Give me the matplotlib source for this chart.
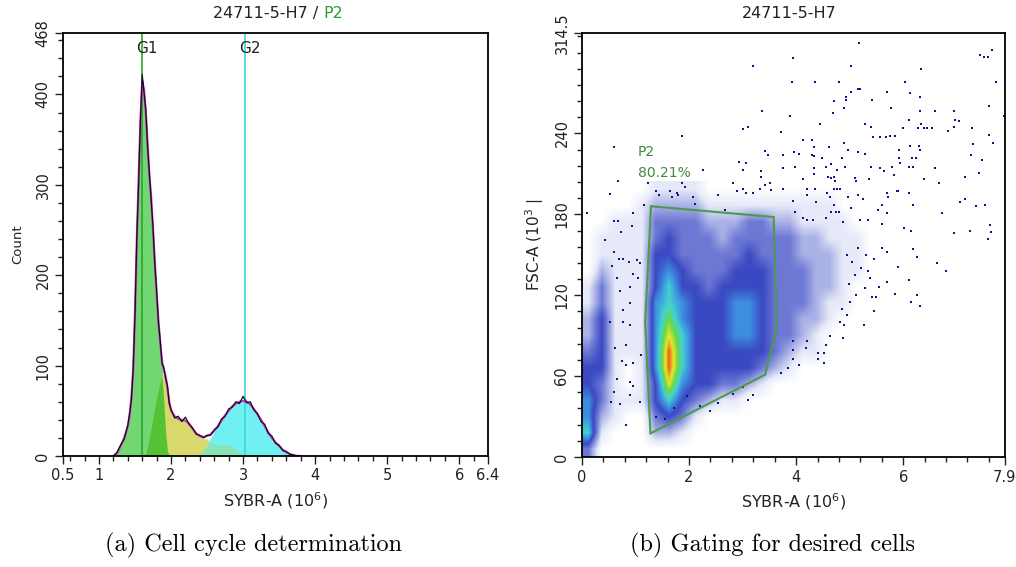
import numpy as np
import matplotlib
matplotlib.use("Agg")
import matplotlib.pyplot as plt
from matplotlib.colors import LinearSegmentedColormap
from matplotlib.ticker import MultipleLocator

plt.rcParams['font.family'] = ['DejaVu Sans']
plt.rcParams['mathtext.fontset'] = 'dejavusans'

# ---------------- (a) histogram: SYBR-A (10^6) vs count ----------------
hist_x = [1.20, 1.25, 1.30, 1.35, 1.40, 1.425, 1.45, 1.475, 1.50, 1.525,
          1.55, 1.575, 1.60, 1.625, 1.65, 1.675, 1.70, 1.725, 1.75, 1.775,
          1.80, 1.825, 1.85, 1.875, 1.90, 1.925, 1.95, 1.975, 2.00,
          2.05, 2.10, 2.15, 2.20, 2.25, 2.30, 2.35, 2.40, 2.45, 2.50,
          2.55, 2.60, 2.65, 2.70, 2.75, 2.80, 2.85, 2.90, 2.95, 3.00,
          3.05, 3.10, 3.15, 3.20, 3.25, 3.30, 3.35, 3.40, 3.45, 3.50,
          3.55, 3.60, 3.65, 3.70, 3.75, 3.80]
# measured counts (black)
hist_counts = [0, 4, 12, 19, 34, 47, 63, 98, 158, 243,
               302, 372, 422, 402, 383, 341, 312, 282, 253, 212,
               183, 147, 128, 102, 98, 86, 78, 58, 52,
               42, 44, 38, 43, 35, 31, 24, 23, 20, 23,
               23, 29, 32, 41, 44, 52, 54, 60, 58, 66,
               59, 60, 51, 47, 38, 35, 25, 22, 14, 12,
               6, 5, 2, 1, 0, 0]
# model fit (magenta)
hist_fit = [0, 3, 11, 20, 33, 45, 65, 95, 160, 240,
            305, 370, 415, 405, 380, 345, 310, 285, 250, 215,
            180, 150, 125, 105, 95, 88, 75, 60, 50,
            44, 41, 40, 39, 36, 30, 25, 22, 21, 22,
            24, 28, 33, 39, 45, 50, 55, 58, 60, 61,
            60, 57, 52, 46, 40, 33, 26, 20, 15, 11,
            7, 4, 2, 1, 0, 0]
g1_fit = [0, 3, 11, 20, 33, 45, 65, 95, 160, 240,
          305, 370, 415, 405, 378, 342, 305, 278, 242, 205,
          168, 145, 118, 100, 60, 25, 6, 0, 0,
          0, 0, 0, 0, 0, 0, 0, 0, 0, 0,
          0, 0, 0, 0, 0, 0, 0, 0, 0, 0,
          0, 0, 0, 0, 0, 0, 0, 0, 0, 0,
          0, 0, 0, 0, 0, 0]
s_fit = [0, 0, 0, 0, 0, 0, 0, 0, 0, 0,
         0, 0, 0, 0, 3, 12, 22, 33, 44, 55,
         65, 75, 82, 88, 92, 86, 75, 60, 50,
         44, 41, 40, 39, 36, 30, 25, 21, 19, 19,
         15, 13, 12, 12, 13, 12, 10, 7, 4, 2,
         0, 0, 0, 0, 0, 0, 0, 0, 0, 0,
         0, 0, 0, 0, 0, 0]
g2_fit = [0, 0, 0, 0, 0, 0, 0, 0, 0, 0,
          0, 0, 0, 0, 0, 0, 0, 0, 0, 0,
          0, 0, 0, 0, 0, 0, 0, 0, 0,
          0, 0, 0, 0, 0, 0, 0, 2, 6, 12,
          20, 27, 33, 39, 45, 50, 55, 58, 60, 61,
          60, 57, 52, 46, 40, 33, 26, 20, 15, 11,
          7, 4, 2, 1, 0, 0]
g1_pos, g2_pos = 1.6, 3.03

hist_xticks = [0.5, 1, 2, 3, 4, 5, 6, 6.4]
hist_xlabels = ["0.5", "1", "2", "3", "4", "5", "6", "6.4"]
hist_yticks = [0, 100, 200, 300, 400, 468]

# ---------------- (b) dot plot: SYBR-A vs FSC-A ----------------
# density level per cell (0.25 x 12 units), rows from y=0 upward
density_rows = [
    "3",
    "61000221",
    "521003431",
    "531114643211",
    "43101485443321",
    "4410159644444321",
    "341115964444443211",
    "241115864445543321",
    "2411157544455433221",
    "13111565444554333211",
    "13111464434444333221",
    "021114543334443332211",
    "011114433333433322211",
    "011113433323333322111",
    "00111333322233221111",
    "00001222211111111110",
    "00000111100000000000",
]
# scattered single events outside the dense cloud (x, y)
sparse_pts = [
    (5.17, 307), (3.95, 296), (7.43, 298), (7.50, 297), (7.59, 297), (7.66, 302),
    (5.02, 290), (6.34, 288), (3.92, 278), (4.36, 278), (4.81, 278), (6.03, 278),
    (7.73, 278), (5.02, 271), (5.16, 273), (5.20, 273), (5.70, 271), (4.94, 267),
    (4.94, 265), (6.13, 270), (6.31, 267), (4.71, 264), (5.42, 265), (4.89, 259),
    (5.78, 259), (7.61, 260), (4.69, 255), (6.31, 257), (6.59, 257), (6.94, 257),
    (3.89, 253), (6.10, 250), (6.97, 250), (7.05, 249), (4.45, 247), (5.29, 247),
    (5.40, 245), (6.00, 244), (6.27, 244), (6.38, 244), (6.44, 244), (6.53, 244),
    (6.34, 247), (6.84, 242), (6.95, 245), (7.28, 244), (7.89, 253), (4.13, 235),
    (4.30, 235), (4.89, 233), (5.44, 237), (5.57, 237), (5.67, 237), (5.75, 238),
    (5.85, 238), (7.60, 239), (7.68, 233), (4.33, 230), (4.62, 230), (4.97, 228),
    (6.13, 231), (6.30, 231), (7.30, 232), (3.96, 226), (4.06, 225), (4.29, 224),
    (4.33, 223), (4.48, 222), (4.86, 222), (5.16, 226), (5.29, 225), (5.92, 228),
    (5.92, 222), (6.16, 222), (6.23, 222), (6.31, 228), (7.26, 224), (7.47, 220),
    (3.97, 215), (4.34, 214), (4.56, 215), (4.66, 217), (4.76, 213), (4.91, 215),
    (5.40, 215), (5.57, 214), (5.80, 215), (5.94, 218), (6.10, 215), (6.18, 215),
    (6.59, 214), (7.42, 211), (4.33, 210), (4.13, 206), (4.60, 208), (4.65, 207),
    (4.70, 208), (4.72, 205), (5.10, 207), (5.12, 205), (5.36, 206), (5.65, 212),
    (5.83, 209), (6.38, 206), (6.67, 203), (7.15, 208), (3.95, 190), (4.20, 199),
    (4.35, 199), (4.20, 194), (4.37, 189), (4.58, 196), (4.63, 193), (4.70, 199),
    (4.76, 199), (4.82, 199), (4.71, 187), (4.97, 193), (5.16, 194), (5.24, 191),
    (5.60, 187), (5.69, 196), (5.72, 193), (5.88, 197), (5.91, 197), (6.10, 196),
    (6.18, 187), (6.72, 181), (7.07, 189), (7.15, 191), (7.36, 186), (7.53, 187),
    (3.97, 182), (4.13, 177), (4.20, 176), (4.31, 176), (4.56, 177), (4.66, 182),
    (4.74, 182), (4.81, 182), (4.88, 174), (5.02, 185), (5.19, 176), (5.34, 176),
    (5.52, 183), (5.60, 173), (5.69, 181), (6.02, 170), (6.14, 168), (6.94, 166),
    (7.25, 168), (7.62, 172), (7.64, 167), (7.59, 162),
    (5.69, 152), (6.19, 154), (6.26, 148), (6.63, 144), (6.80, 138), (5.91, 141),
    (5.55, 126), (5.70, 130), (6.11, 131), (5.85, 121), (6.26, 120), (6.15, 115),
    (6.31, 112), (5.38, 133), (5.29, 125), (5.41, 119), (5.49, 119), (5.27, 98),
    (4.88, 88), (4.82, 100), (4.89, 98), (4.64, 90), (4.56, 83), (4.53, 70),
    (4.40, 73), (4.53, 77), (4.40, 77), (3.95, 86), (3.95, 79), (3.95, 73),
    (4.18, 81), (4.21, 86), (4.95, 150), (5.05, 145), (5.15, 155), (5.22, 140),
    (5.30, 150), (5.45, 147), (5.10, 135), (4.98, 128), (5.60, 155), (5.35, 138),
    (5.00, 115), (5.12, 120), (4.85, 110), (4.95, 105), (5.45, 108),
    (3.20, 290), (3.36, 257), (3.01, 243), (3.11, 245), (3.72, 241), (1.87, 238),
    (0.59, 230), (3.42, 227), (3.48, 224), (3.75, 224), (2.27, 213), (2.94, 219),
    (3.06, 218), (3.00, 213), (3.34, 212), (3.34, 208), (3.76, 214), (0.67, 205),
    (0.52, 195), (0.09, 181), (0.96, 181), (1.15, 187), (1.24, 203), (1.38, 197),
    (1.44, 194), (1.64, 197), (1.68, 193), (1.77, 196), (1.80, 194), (1.86, 203),
    (1.92, 200), (2.08, 193), (2.11, 188), (2.83, 203), (2.89, 197), (3.01, 199),
    (3.07, 196), (3.20, 196), (3.32, 199), (3.42, 202), (3.51, 203), (3.54, 198),
    (2.55, 194), (2.67, 183), (3.76, 199), (0.59, 175), (0.67, 175), (0.43, 161),
    (0.73, 167), (0.93, 171),
    (0.59, 152), (0.70, 147), (0.76, 147), (0.57, 142), (0.66, 133), (0.87, 145),
    (0.96, 136), (1.02, 146), (1.08, 144), (0.90, 126), (0.90, 114), (1.05, 133),
    (0.71, 123), (0.77, 109), (0.52, 100), (0.77, 100), (0.90, 98), (0.83, 83),
    (0.62, 81), (0.74, 71), (0.83, 68), (0.96, 70), (1.11, 76), (0.65, 58),
    (0.90, 56), (0.96, 53), (1.08, 41), (0.90, 46), (0.59, 48), (0.55, 41),
    (0.71, 39), (0.83, 24),
    (1.39, 30), (1.71, 36), (1.96, 45), (2.39, 34), (2.83, 47), (3.20, 46),
    (3.10, 42), (2.55, 40), (3.00, 52), (1.55, 28), (2.20, 38), (3.72, 62),
    (3.85, 66), (4.05, 68),
]
gate_x = [1.29, 3.58, 3.64, 3.42, 1.28, 1.18]
gate_y = [186, 178, 96, 61, 17.5, 100]

dot_xticks = [0, 2, 4, 6, 7.9]
dot_xlabels = ["0", "2", "4", "6", "7.9"]
dot_yticks = [0, 60, 120, 180, 240, 314.5]
dot_ylabels = ["0", "60", "120", "180", "240", "314.5"]

density_colors = ["#ffffff", "#e6e9f8", "#aab2e6", "#6c78d4", "#3a49c2",
                  "#3d8ee0", "#42d2d2", "#6ad84a", "#e6e62a", "#f06020"]

fig = plt.figure(figsize=(10.16, 5.67), dpi=100)


def style_axes(ax):
    for sp in ax.spines.values():
        sp.set_linewidth(1.3)
    ax.tick_params(which="both", direction="out", width=1, labelsize=10.5,
                   colors="#222222")
    ax.tick_params(which="major", length=6, pad=3)
    ax.tick_params(which="minor", length=3.5)
    for lab in ax.get_yticklabels():
        lab.set_rotation(90)
        lab.set_va("center")


# ---- panel (a)
ax1 = fig.add_axes([0.0620, 0.1958, 0.4183, 0.7460])
x = np.array(hist_x)
g1 = np.array(g1_fit)
s = np.array(s_fit)
g2 = np.array(g2_fit)
ax1.fill_between(x, 0, g1, color="#72d672", lw=0)
ax1.fill_between(x, 0, s, color="#d8d86c", lw=0)
ax1.fill_between(x, 0, g2, color="#70f0f0", lw=0)
ax1.fill_between(x, 0, np.minimum(g1, s), color="#55c236", lw=0)
ax1.fill_between(x, 0, np.minimum(s, g2), color="#88e4b4", lw=0)
ax1.axvline(g1_pos, color="#2aa62a", lw=1.2)
ax1.axvline(g2_pos, color="#3ad8d8", lw=1.2)
ax1.plot(x, hist_fit, color="#cc33cc", lw=1.6)
ax1.plot(x, hist_counts, color="#111111", lw=0.9)
ax1.text(1.67, 451, "G1", ha="center", va="center", fontsize=11, color="#222222")
ax1.text(3.10, 451, "G2", ha="center", va="center", fontsize=11, color="#222222")

ax1.set_xlim(0.5, 6.4)
ax1.set_ylim(0, 468)
ax1.set_xticks(hist_xticks)
ax1.set_xticklabels(hist_xlabels)
ax1.xaxis.set_minor_locator(MultipleLocator(0.2))
ax1.set_yticks(hist_yticks)
ax1.set_yticklabels([str(v) for v in hist_yticks])
ax1.yaxis.set_minor_locator(MultipleLocator(20))
style_axes(ax1)
ax1.set_xlabel("SYBR-A (10$^{6}$)", fontsize=11.5, color="#222222", labelpad=5)
ax1.set_ylabel("Count", fontsize=9.5, color="#222222", labelpad=8)

t1 = fig.text(213 / 1016, 1 - 18 / 567, "24711-5-H7 / ", fontsize=11.5,
              color="#222222", va="baseline", ha="left")
ax1.annotate("P2", xy=(1, 0), xycoords=t1, va="bottom", ha="left",
             fontsize=11.5, color="#2e9e2e")

# ---- panel (b)
ax2 = fig.add_axes([0.5728, 0.1940, 0.4163, 0.7478])
grid = np.array([[int(c) for c in row.ljust(32, "0")] for row in density_rows])
cmap = LinearSegmentedColormap.from_list("density", density_colors)
ax2.imshow(grid, origin="lower", extent=(0, 8, 0, 12 * len(density_rows)),
           cmap=cmap, vmin=0, vmax=9, interpolation="bilinear", aspect="auto",
           zorder=0)
px, py = zip(*sparse_pts)
ax2.scatter(px, py, s=3.2, marker="s", color="#12128c", lw=0, zorder=1)
ax2.fill(gate_x, gate_y, fill=False, edgecolor="#4c9a4c", lw=1.5, zorder=3)
ax2.text(1.04, 223, "P2", color="#3d8c3d", fontsize=10, va="baseline")
ax2.text(1.04, 208, "80.21%", color="#3d8c3d", fontsize=10, va="baseline")

ax2.set_xlim(0, 7.9)
ax2.set_ylim(0, 314.5)
ax2.set_xticks(dot_xticks)
ax2.set_xticklabels(dot_xlabels)
ax2.xaxis.set_minor_locator(MultipleLocator(0.4))
ax2.set_yticks(dot_yticks)
ax2.set_yticklabels(dot_ylabels)
ax2.yaxis.set_minor_locator(MultipleLocator(12))
style_axes(ax2)
ax2.set_xlabel("SYBR-A (10$^{6}$)", fontsize=11.5, color="#222222", labelpad=5)
ax2.set_ylabel("FSC-A (10$^{3}$ |", fontsize=11, color="#222222", labelpad=6)
fig.text(789 / 1016, 1 - 18 / 567, "24711-5-H7", fontsize=11.5, color="#222222",
         va="baseline", ha="center")

# ---- captions
fig.text(254 / 1016, 1 - 545 / 567, "(a) Cell cycle determination",
         family="cmr10", fontsize=17.5, ha="center", va="center")
fig.text(772 / 1016, 1 - 545 / 567, "(b) Gating for desired cells",
         family="cmr10", fontsize=17.5, ha="center", va="center")

fig.savefig("out.png", dpi=100)
